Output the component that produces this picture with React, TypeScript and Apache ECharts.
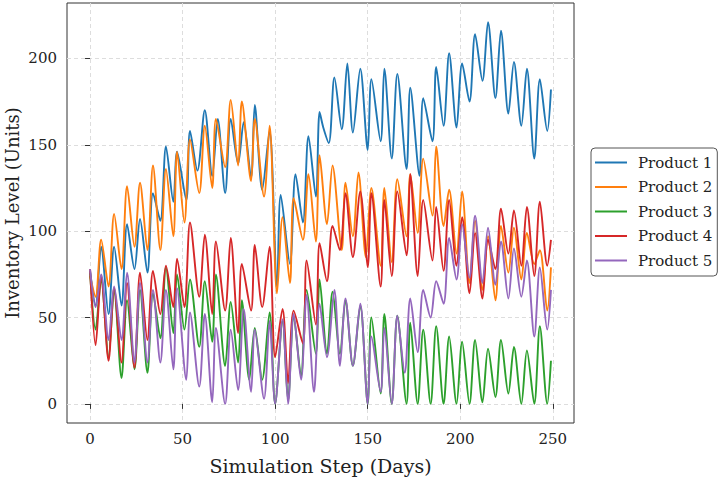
import React, { useEffect, useRef } from "react";
import * as echarts from "echarts";

// Peaks and troughs, as [day, inventory level]
const product1: [number, number][] = [
  [0, 77], [3, 57], [6, 91], [10, 52], [13, 91], [17, 57], [20, 104], [24, 78], [27, 107], [31, 76],
  [34, 122], [38, 106], [41, 149], [45, 117], [47, 146], [52, 118], [54, 158], [58, 135], [62, 170],
  [66, 132], [69, 165], [73, 122], [76, 165], [80, 139], [83, 163], [87, 131], [89, 173], [93, 124],
  [97, 158], [101, 68], [103, 121], [108, 81], [111, 133], [115, 105], [118, 155], [122, 120],
  [124, 169], [126, 160], [129, 151], [132, 189], [136, 159], [139, 197], [142, 157], [146, 194],
  [150, 147], [152, 188], [157, 152], [159, 194], [163, 142], [166, 191], [171, 136], [173, 183],
  [178, 132], [180, 177], [185, 152], [187, 195], [191, 161], [194, 203], [198, 160], [201, 197],
  [205, 175], [208, 214], [212, 187], [215, 221], [219, 177], [222, 216], [226, 168], [229, 198],
  [233, 161], [236, 194], [240, 142], [243, 188], [247, 158], [249, 182],
];

const product2: [number, number][] = [
  [0, 74], [3, 62], [6, 95], [10, 68], [13, 110], [17, 78], [20, 126], [24, 91], [27, 128], [31, 89],
  [34, 138], [38, 89], [41, 136], [45, 97], [47, 146], [51, 105], [54, 153], [59, 122], [62, 161],
  [66, 125], [68, 165], [73, 137], [76, 176], [80, 138], [82, 175], [87, 129], [89, 165], [94, 120],
  [97, 161], [101, 64], [104, 108], [108, 70], [110, 119], [115, 95], [118, 133], [122, 94],
  [124, 144], [128, 104], [131, 138], [136, 89], [138, 128], [142, 97], [145, 134], [149, 85],
  [152, 125], [157, 80], [159, 125], [163, 82], [166, 130], [171, 97], [173, 133], [177, 99],
  [180, 142], [185, 109], [187, 149], [191, 103], [194, 124], [198, 87], [201, 123], [205, 70],
  [208, 106], [212, 66], [215, 97], [219, 60], [222, 103], [226, 76], [229, 102], [233, 72],
  [236, 99], [240, 81], [243, 89], [247, 54], [249, 79],
];

const product3: [number, number][] = [
  [0, 76], [3, 43], [6, 72], [10, 27], [13, 66], [17, 15], [20, 60], [24, 20], [27, 66], [31, 18],
  [34, 64], [38, 38], [41, 79], [45, 41], [47, 75], [51, 43], [54, 72], [59, 33], [62, 71], [66, 36],
  [68, 75], [73, 22], [76, 59], [80, 24], [82, 60], [86, 14], [89, 44], [93, 14], [97, 53], [100, 0],
  [104, 48], [107, 2], [110, 51], [114, 16], [117, 66], [122, 29], [124, 72], [128, 29], [131, 65],
  [135, 29], [138, 60], [142, 22], [146, 57], [150, 0], [152, 50], [157, 6], [159, 52], [163, 0],
  [166, 51], [171, 0], [173, 47], [177, 0], [180, 43], [184, 0], [187, 45], [191, 0], [194, 39],
  [198, 0], [201, 36], [205, 0], [208, 37], [212, 1], [215, 32], [219, 4], [222, 37], [226, 6],
  [229, 33], [233, 0], [236, 31], [240, 0], [243, 45], [247, 0], [249, 25],
];

const product4: [number, number][] = [
  [0, 78], [3, 34], [6, 74], [10, 25], [13, 67], [17, 24], [20, 70], [24, 21], [27, 76], [31, 37],
  [34, 77], [38, 52], [41, 80], [45, 56], [47, 84], [51, 56], [54, 105], [59, 62], [62, 98], [66, 52],
  [68, 94], [73, 54], [76, 96], [80, 41], [82, 81], [87, 54], [89, 92], [93, 56], [97, 91], [100, 27],
  [104, 55], [107, 12], [110, 54], [115, 35], [117, 83], [122, 46], [124, 93], [128, 71], [131, 103],
  [135, 89], [138, 122], [142, 85], [146, 123], [150, 79], [152, 122], [157, 68], [159, 118],
  [163, 74], [166, 123], [171, 86], [173, 133], [177, 74], [180, 118], [185, 83], [187, 114],
  [191, 77], [194, 118], [198, 80], [201, 108], [205, 64], [208, 99], [212, 61], [215, 95], [219, 78],
  [222, 113], [226, 87], [229, 112], [233, 80], [236, 114], [240, 74], [243, 117], [247, 80], [249, 95],
];

const product5: [number, number][] = [
  [0, 78], [3, 56], [6, 75], [10, 37], [13, 68], [17, 37], [20, 76], [24, 24], [27, 70], [31, 24],
  [34, 66], [38, 24], [41, 66], [45, 20], [47, 67], [52, 14], [54, 53], [59, 10], [62, 52], [66, 1],
  [68, 44], [73, 0], [76, 43], [80, 8], [83, 55], [87, 7], [89, 43], [94, 3], [97, 48], [100, 0],
  [104, 49], [107, 0], [110, 52], [114, 14], [117, 63], [121, 7], [124, 58], [128, 27], [132, 66],
  [135, 22], [138, 61], [142, 22], [146, 58], [150, 0], [152, 39], [157, 7], [159, 44], [163, 0],
  [166, 51], [170, 18], [173, 61], [177, 30], [180, 66], [184, 50], [187, 71], [191, 58], [194, 96],
  [198, 72], [201, 104], [205, 73], [208, 109], [212, 70], [215, 102], [219, 69], [222, 94], [226, 61],
  [229, 90], [233, 62], [236, 83], [240, 39], [243, 79], [247, 43], [249, 66],
];

const seriesNames = ["Product 1", "Product 2", "Product 3", "Product 4", "Product 5"];
const seriesColors = ["#1f77b4", "#ff7f0e", "#2ca02c", "#d62728", "#9467bd"];
const xTicks = [0, 50, 100, 150, 200, 250];
const yTicks = [0, 50, 100, 150, 200];

const FONT = "'DejaVu Serif', 'Liberation Serif', serif";

export default function App() {
  const ref = useRef<HTMLDivElement>(null);

  useEffect(() => {
    if (!ref.current) return;
    const chart = echarts.init(ref.current, undefined, { renderer: "svg" });
    const allData = [product1, product2, product3, product4, product5];

    const axisCommon = {
      axisLine: { show: false },
      splitLine: { show: true, lineStyle: { color: "#dddddd", type: [4, 3] as any, width: 1 } },
    };

    chart.setOption({
      animation: false,
      backgroundColor: "#ffffff",
      grid: {
        left: 67,
        right: 144,
        top: 3,
        bottom: 58,
        containLabel: false,
        outerBoundsMode: "none",
        show: true,
        borderColor: "#333333",
        borderWidth: 1,
        backgroundColor: "transparent",
      },
      xAxis: {
        type: "value",
        min: -12.45,
        max: 261.45,
        ...axisCommon,
        axisTick: { show: true, length: 5, inside: false, customValues: xTicks, lineStyle: { color: "#333" } },
        axisLabel: {
          customValues: xTicks,
          fontFamily: FONT,
          fontSize: 15,
          color: "#222",
          margin: 8,
        },
        name: "Simulation Step (Days)",
        nameLocation: "middle",
        nameGap: 33,
        nameMoveOverlap: false,
        nameTextStyle: { fontFamily: FONT, fontSize: 19, color: "#222" },
      },
      yAxis: {
        type: "value",
        min: -11.05,
        max: 232.05,
        ...axisCommon,
        axisTick: { show: true, length: 5, inside: false, customValues: yTicks, lineStyle: { color: "#333" } },
        axisLabel: {
          customValues: yTicks,
          fontFamily: FONT,
          fontSize: 15,
          color: "#222",
          margin: 10,
        },
        name: "Inventory Level (Units)",
        nameLocation: "middle",
        nameGap: 46,
        nameMoveOverlap: false,
        nameTextStyle: { fontFamily: FONT, fontSize: 18, lineHeight: 18, color: "#222" },
      },
      legend: {
        orient: "vertical",
        left: 591,
        top: 148,
        data: seriesNames,
        icon: "rect",
        itemWidth: 32,
        itemHeight: 2,
        itemGap: 7.5,
        padding: [6, 5, 7, 4],
        borderColor: "#555",
        borderWidth: 1,
        borderRadius: 4,
        backgroundColor: "#fff",
        textStyle: {
          fontFamily: FONT,
          fontSize: 15,
          color: "#222",
          lineHeight: 17,
          padding: [0, 0, 0, 6],
        },
      },
      series: seriesNames.map((name, i) => ({
        name,
        type: "line",
        data: allData[i],
        showSymbol: false,
        symbol: "none",
        smooth: 0.3,
        color: seriesColors[i],
        lineStyle: { width: 1.9, color: seriesColors[i] },
      })),
    });

    return () => chart.dispose();
  }, []);

  return (
    <div
      ref={ref}
      style={{ position: "fixed", left: 0, top: 0, width: 718, height: 481, background: "#fff" }}
    />
  );
}
